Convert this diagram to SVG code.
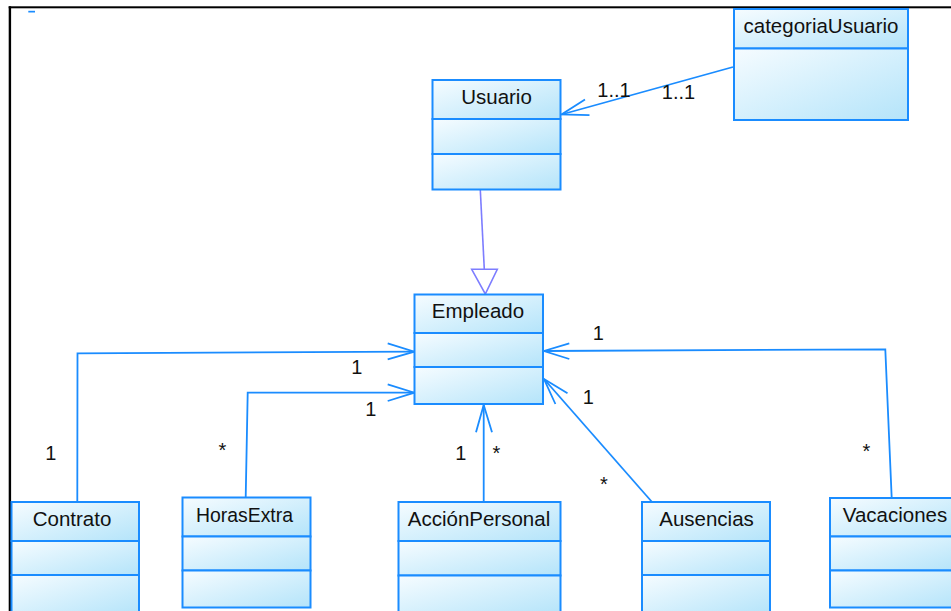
<svg xmlns="http://www.w3.org/2000/svg" width="951" height="611" viewBox="0 0 951 611">
  <defs>
    <linearGradient id="cellFill" x1="0" y1="0" x2="1" y2="1">
      <stop offset="0" stop-color="#f6fcff"/>
      <stop offset="1" stop-color="#b4e4fa"/>
    </linearGradient>
  </defs>
  <style>
    .cell { fill: url(#cellFill); stroke: #1a8cff; stroke-width: 2; }
    .name { font-family: "Liberation Sans", Arial, sans-serif; font-size: 20.5px; fill: #111; text-anchor: middle; }
    .mult { font-family: "Liberation Sans", Arial, sans-serif; font-size: 20px; fill: #111; text-anchor: middle; }
    .assoc { fill: none; stroke: #1a8cff; stroke-width: 1.8; stroke-linejoin: miter; }
    .gen { fill: none; stroke: #7d7dff; stroke-width: 1.6; }
    .genhead { fill: #ffffff; stroke: #7d7dff; stroke-width: 1.6; }
  </style>

  <rect width="951" height="611" fill="#ffffff"/>

  <!-- frame -->
  <rect x="8.7" y="6.3" width="942.3" height="2" fill="#000"/>
  <rect x="8.7" y="6.3" width="2.4" height="604.7" fill="#000"/>
  <rect x="28.3" y="10.8" width="6.7" height="1.7" fill="#1a8cff"/>

  <!-- connectors -->
  <g id="connectors">
    <!-- categoriaUsuario to Usuario -->
    <path class="assoc" d="M733 67 L561.5 114.5"/>
    <polyline class="assoc" points="585,99.5 561.5,114.5 589.5,115.2"/>
    <!-- Usuario generalizes to Empleado -->
    <path class="gen" d="M480.3 190 L484.3 269.3"/>
    <polygon class="genhead" points="471.7,269.3 497.3,269.3 485.3,294"/>
    <!-- Contrato to Empleado -->
    <path class="assoc" d="M77.3 502 L77.5 353.3 L414.3 351.7"/>
    <polyline class="assoc" points="387.7,343.3 414.3,351.7 387.7,359.3"/>
    <!-- HorasExtra to Empleado -->
    <path class="assoc" d="M245.7 497.5 L247.7 392.7 L414.3 392.7"/>
    <polyline class="assoc" points="387.7,384.3 414.3,392.7 387.7,401"/>
    <!-- AccionPersonal to Empleado -->
    <path class="assoc" d="M483.7 502 L483.7 405"/>
    <polyline class="assoc" points="476,432.3 483.7,405 492,432.3"/>
    <!-- Ausencias to Empleado -->
    <path class="assoc" d="M652 502 L544 379"/>
    <polyline class="assoc" points="567.5,393.3 544,379 555.4,404"/>
    <!-- Vacaciones to Empleado -->
    <path class="assoc" d="M891.7 498 L885.3 349.3 L544 351"/>
    <polyline class="assoc" points="569.3,343.3 544,351 569.3,359"/>

    <!-- multiplicities -->
    <text class="mult" x="614" y="96.5">1..1</text>
    <text class="mult" x="678.5" y="98.5">1..1</text>
    <text class="mult" x="356.7" y="374">1</text>
    <text class="mult" x="370.7" y="416">1</text>
    <text class="mult" x="50.7" y="460">1</text>
    <text class="mult" x="222.3" y="456.5">*</text>
    <text class="mult" x="460.7" y="460">1</text>
    <text class="mult" x="496.3" y="460">*</text>
    <text class="mult" x="598.4" y="340">1</text>
    <text class="mult" x="588.4" y="404">1</text>
    <text class="mult" x="604" y="491">*</text>
    <text class="mult" x="866.3" y="458.3">*</text>
  </g>

  <g id="categoriaUsuario">
    <rect class="cell" x="734" y="9" width="174" height="39.5"/>
    <rect class="cell" x="734" y="48.5" width="174" height="71.5"/>
    <text class="name" x="821" y="33">categoriaUsuario</text>
  </g>

  <g id="Usuario">
    <rect class="cell" x="432.5" y="80" width="128" height="39"/>
    <rect class="cell" x="432.5" y="119" width="128" height="35"/>
    <rect class="cell" x="432.5" y="154" width="128" height="35.5"/>
    <text class="name" x="496.5" y="104">Usuario</text>
  </g>

  <g id="Empleado">
    <rect class="cell" x="414.5" y="294.5" width="128.5" height="38.5"/>
    <rect class="cell" x="414.5" y="333" width="128.5" height="34"/>
    <rect class="cell" x="414.5" y="367" width="128.5" height="37"/>
    <text class="name" x="478" y="318">Empleado</text>
  </g>

  <g id="Contrato">
    <rect class="cell" x="11.5" y="502" width="127.5" height="39"/>
    <rect class="cell" x="11.5" y="541" width="127.5" height="34"/>
    <rect class="cell" x="11.5" y="575" width="127.5" height="40"/>
    <text class="name" x="72" y="525.5">Contrato</text>
  </g>

  <g id="HorasExtra">
    <rect class="cell" x="182.5" y="497.5" width="128" height="39"/>
    <rect class="cell" x="182.5" y="536.5" width="128" height="34"/>
    <rect class="cell" x="182.5" y="570.5" width="128" height="37"/>
    <text class="name" x="244.5" y="521.5" textLength="97" lengthAdjust="spacingAndGlyphs">HorasExtra</text>
  </g>

  <g id="AccionPersonal">
    <rect class="cell" x="398.5" y="502" width="162" height="39"/>
    <rect class="cell" x="398.5" y="541" width="162" height="34.5"/>
    <rect class="cell" x="398.5" y="575.5" width="162" height="40"/>
    <text class="name" x="479" y="525.5">AcciónPersonal</text>
  </g>

  <g id="Ausencias">
    <rect class="cell" x="642" y="502" width="128" height="39"/>
    <rect class="cell" x="642" y="541" width="128" height="34"/>
    <rect class="cell" x="642" y="575" width="128" height="40"/>
    <text class="name" x="706.5" y="525.5">Ausencias</text>
  </g>

  <g id="Vacaciones">
    <rect class="cell" x="830" y="498" width="128" height="38.5"/>
    <rect class="cell" x="830" y="536.5" width="128" height="34"/>
    <rect class="cell" x="830" y="570.5" width="128" height="37"/>
    <text class="name" x="895" y="521.5">Vacaciones</text>
  </g>
</svg>
